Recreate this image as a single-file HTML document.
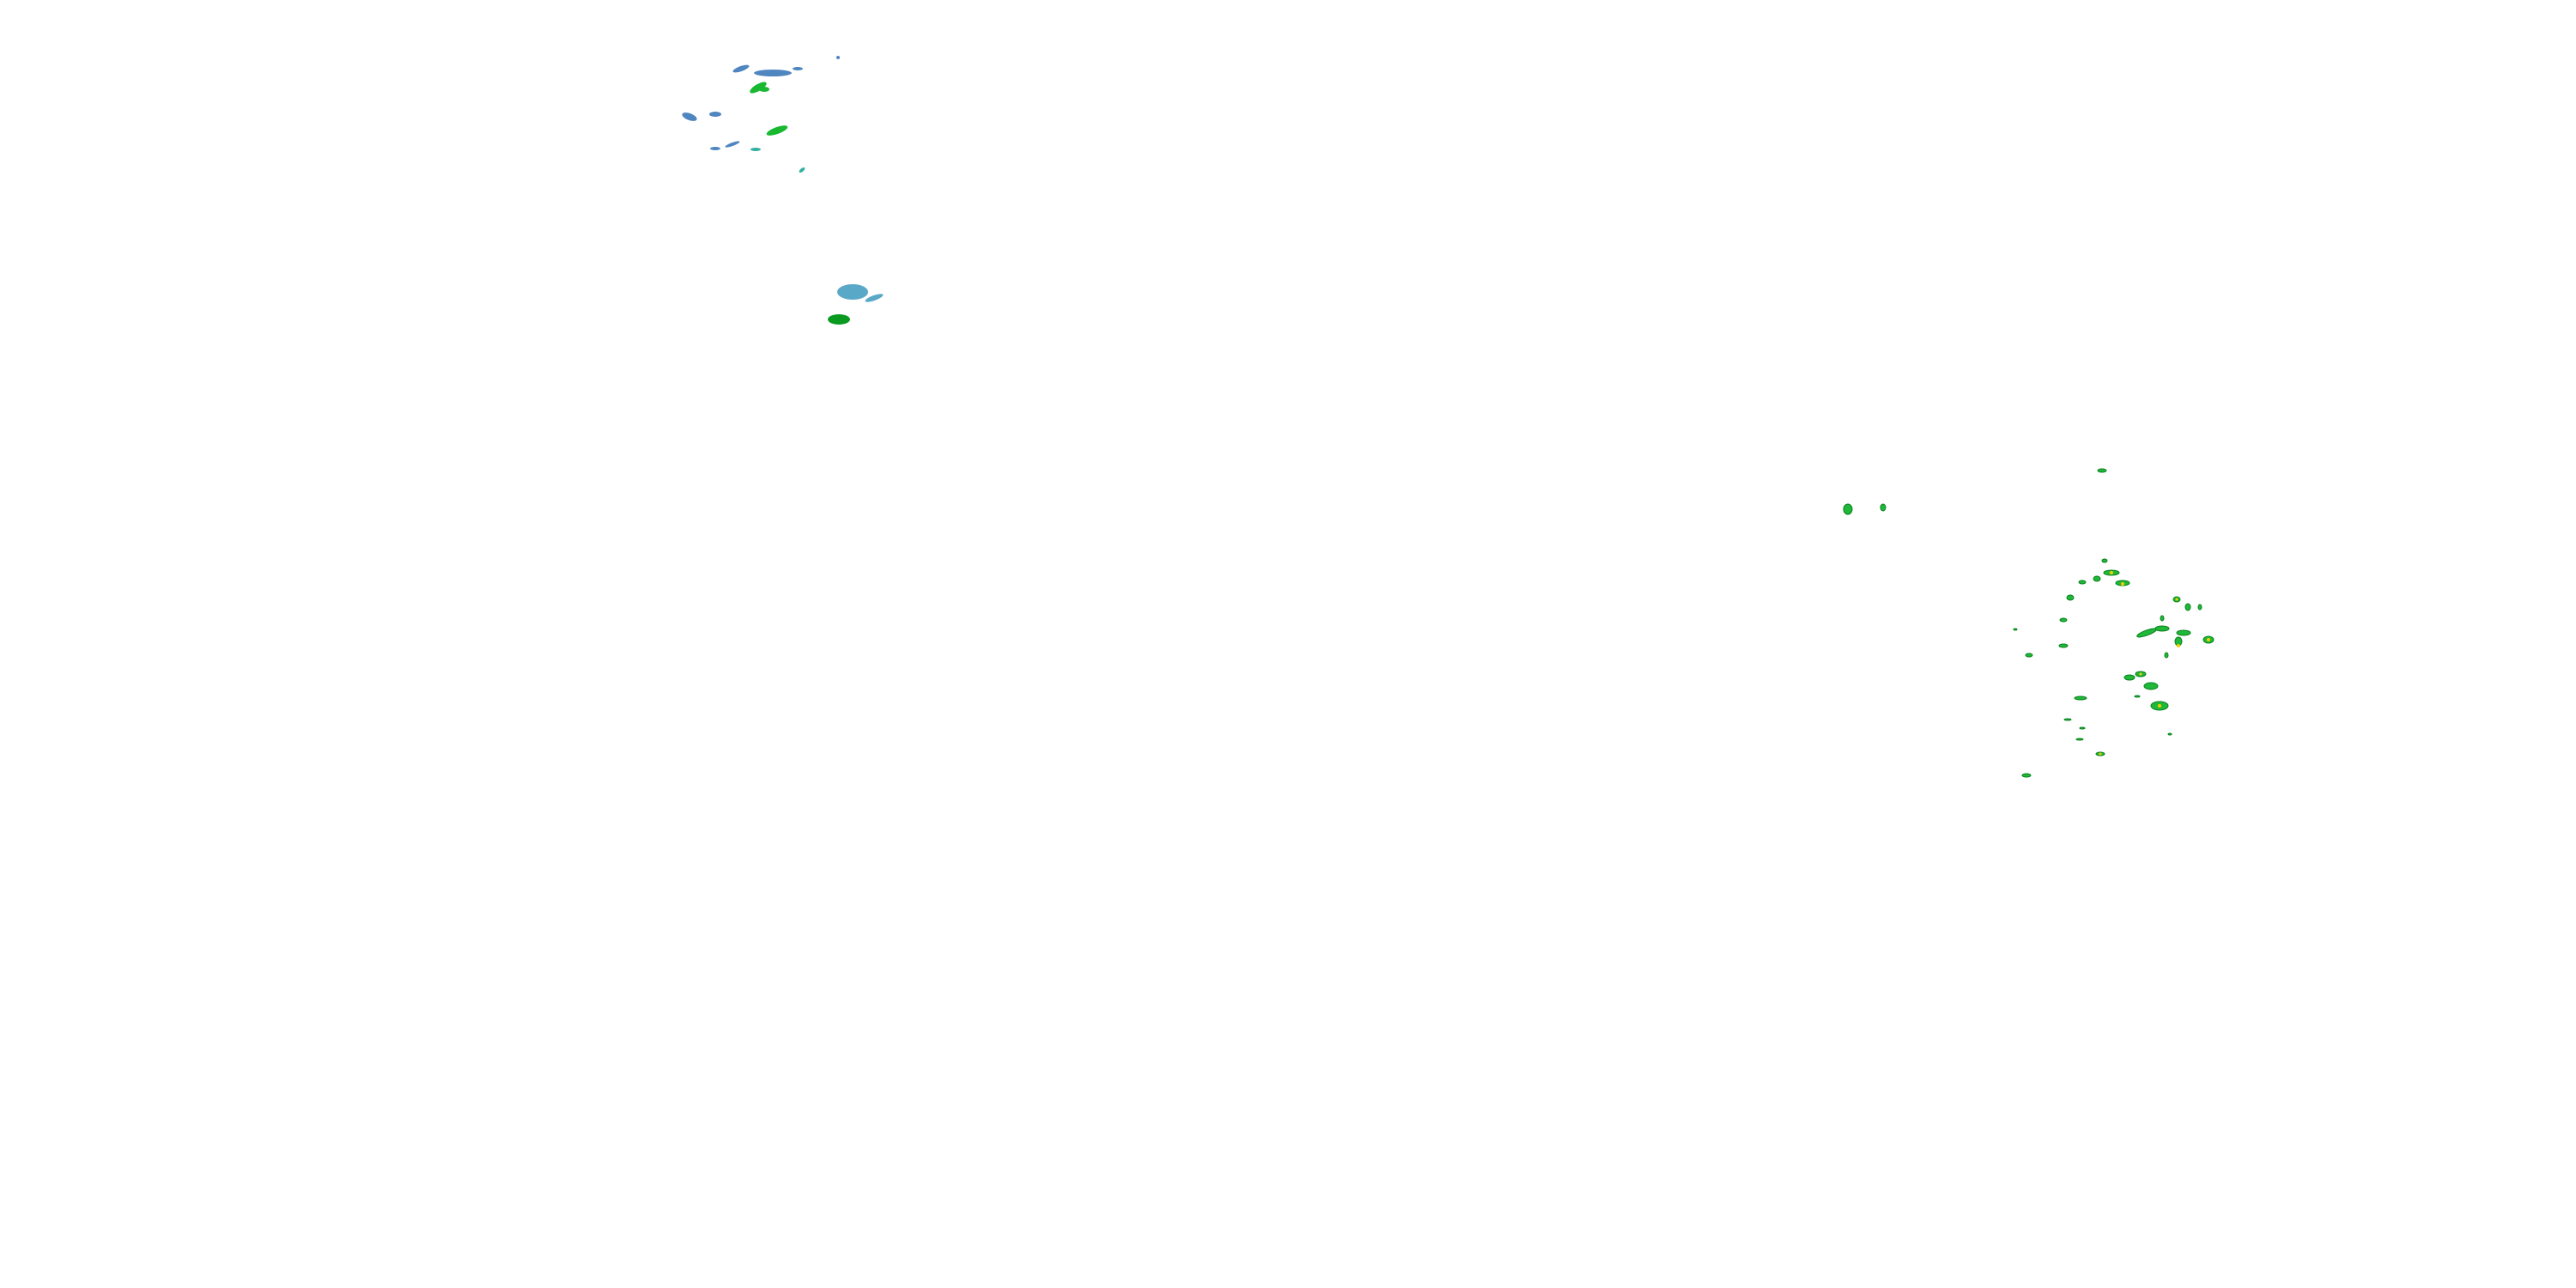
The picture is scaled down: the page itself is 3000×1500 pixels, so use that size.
<!DOCTYPE html>
<html><head><style>html,body{margin:0;padding:0;background:#fff}svg{display:block}</style></head>
<body>
<svg width="3000" height="1500" viewBox="0 0 3000 1500" xmlns="http://www.w3.org/2000/svg">
<g fill="#4f86c0">
<ellipse cx="863" cy="80" rx="10" ry="3" transform="rotate(-20 863 80)"/>
<ellipse cx="900" cy="85" rx="22" ry="4"/>
<ellipse cx="929" cy="80" rx="6" ry="2"/>
<ellipse cx="976" cy="67" rx="2" ry="2"/>
<ellipse cx="803" cy="136" rx="9" ry="4" transform="rotate(20 803 136)"/>
<ellipse cx="833" cy="133" rx="7" ry="3"/>
<ellipse cx="853" cy="168" rx="9" ry="2" transform="rotate(-20 853 168)"/>
<ellipse cx="833" cy="173" rx="6" ry="2"/>
</g>
<g fill="#33b0a0">
<ellipse cx="880" cy="174" rx="6" ry="2"/>
<ellipse cx="934" cy="198" rx="4" ry="2" transform="rotate(-40 934 198)"/>
<ellipse cx="993" cy="340" rx="18" ry="9" fill="#5aa8c8"/>
<ellipse cx="1018" cy="347" rx="11" ry="3" fill="#5aa8c8" transform="rotate(-20 1018 347)"/>
</g>
<g fill="#18b830">
<ellipse cx="883" cy="102" rx="11" ry="4" transform="rotate(-30 883 102)"/>
<ellipse cx="890" cy="104" rx="6" ry="3"/>
<ellipse cx="905" cy="152" rx="13" ry="4" transform="rotate(-20 905 152)"/>
<ellipse cx="977" cy="372" rx="13" ry="6" fill="#0a9a20"/>
</g>
<g fill="#20b838" stroke="#0a8020" stroke-width="1">
<ellipse cx="2152" cy="593" rx="5" ry="6"/>
<ellipse cx="2193" cy="591" rx="3" ry="4"/>
<ellipse cx="2448" cy="548" rx="5" ry="2"/>
<ellipse cx="2451" cy="653" rx="3" ry="2"/>
<ellipse cx="2459" cy="667" rx="9" ry="3"/>
<ellipse cx="2472" cy="679" rx="8" ry="3"/>
<ellipse cx="2442" cy="674" rx="4" ry="3"/>
<ellipse cx="2425" cy="678" rx="4" ry="2"/>
<ellipse cx="2411" cy="696" rx="4" ry="3"/>
<ellipse cx="2403" cy="722" rx="4" ry="2"/>
<ellipse cx="2535" cy="698" rx="4" ry="3"/>
<ellipse cx="2548" cy="707" rx="3" ry="4"/>
<ellipse cx="2562" cy="707" rx="2" ry="3"/>
<ellipse cx="2500" cy="737" rx="12" ry="3" transform="rotate(-20 2500 737)"/>
<ellipse cx="2518" cy="732" rx="8" ry="3"/>
<ellipse cx="2543" cy="737" rx="8" ry="3"/>
<ellipse cx="2537" cy="747" rx="4" ry="5"/>
<ellipse cx="2572" cy="745" rx="6" ry="4"/>
<ellipse cx="2518" cy="720" rx="2" ry="3"/>
<ellipse cx="2523" cy="763" rx="2" ry="3"/>
<ellipse cx="2363" cy="763" rx="4" ry="2"/>
<ellipse cx="2403" cy="752" rx="5" ry="2"/>
<ellipse cx="2347" cy="733" rx="2" ry="1"/>
<ellipse cx="2480" cy="789" rx="6" ry="3"/>
<ellipse cx="2493" cy="785" rx="6" ry="3"/>
<ellipse cx="2505" cy="799" rx="8" ry="4"/>
<ellipse cx="2515" cy="822" rx="10" ry="5"/>
<ellipse cx="2489" cy="811" rx="3" ry="1"/>
<ellipse cx="2423" cy="813" rx="7" ry="2"/>
<ellipse cx="2408" cy="838" rx="4" ry="1"/>
<ellipse cx="2425" cy="848" rx="3" ry="1"/>
<ellipse cx="2422" cy="861" rx="4" ry="1"/>
<ellipse cx="2446" cy="878" rx="5" ry="2"/>
<ellipse cx="2360" cy="903" rx="5" ry="2"/>
<ellipse cx="2527" cy="855" rx="2" ry="1"/>
</g>
<g fill="#f0d000">
<circle cx="2459" cy="667" r="2"/><circle cx="2472" cy="680" r="2"/><circle cx="2535" cy="698" r="1.5"/>
<circle cx="2515" cy="822" r="2"/><circle cx="2572" cy="745" r="2"/><circle cx="2537" cy="752" r="2"/>
<circle cx="2493" cy="785" r="1.5"/><circle cx="2446" cy="878" r="1.5"/>
</g>
</svg>
</body></html>
